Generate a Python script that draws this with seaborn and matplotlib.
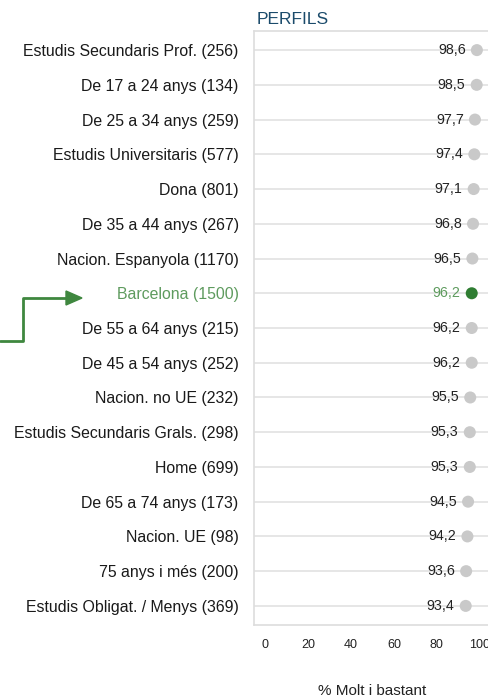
import matplotlib
matplotlib.use("Agg")
import pandas as pd
import seaborn as sns
import matplotlib.pyplot as plt
from matplotlib.lines import Line2D
from matplotlib.patches import FancyArrow

# Chart data
categories = [
    "Estudis Secundaris Prof. (256)", "De 17 a 24 anys (134)", "De 25 a 34 anys (259)",
    "Estudis Universitaris (577)", "Dona (801)", "De 35 a 44 anys (267)",
    "Nacion. Espanyola (1170)", "Barcelona (1500)", "De 55 a 64 anys (215)",
    "De 45 a 54 anys (252)", "Nacion. no UE (232)", "Estudis Secundaris Grals. (298)",
    "Home (699)", "De 65 a 74 anys (173)", "Nacion. UE (98)", "75 anys i més (200)",
    "Estudis Obligat. / Menys (369)",
]
values = [98.6, 98.5, 97.7, 97.4, 97.1, 96.8, 96.5, 96.2, 96.2, 96.2,
          95.5, 95.3, 95.3, 94.5, 94.2, 93.6, 93.4]
highlight = "Barcelona (1500)"
x_ticks = [0, 20, 40, 60, 80, 100]

df = pd.DataFrame({"perfil": categories, "valor": values})
df["grup"] = ["total" if c == highlight else "altres" for c in categories]

sns.set_style("white")
plt.rcParams["font.family"] = ["Liberation Sans", "DejaVu Sans"]

fig = plt.figure(figsize=(4.89, 6.98), dpi=100)
ax = fig.add_axes([254 / 489, 73 / 698, 236 / 489, 594 / 698])

green_dot = "#2f7d32"
green_txt = "#5e9b5e"
grey_dot = "#c9c9c9"

sns.scatterplot(data=df, x="valor", y="perfil", hue="grup",
                palette={"altres": grey_dot, "total": green_dot},
                s=75, linewidth=0, legend=False, ax=ax, zorder=3)

ax.set_xlim(-5.1, 104.7)
ax.set_ylim(len(categories) - 0.45, -0.55)
ax.set_xticks(x_ticks)
ax.set_xticklabels([str(t) for t in x_ticks], fontsize=9, color="#222222")
ax.tick_params(axis="x", length=3, pad=7, color="#cccccc")
ax.tick_params(axis="y", length=0, pad=11, labelsize=11.4)
ax.grid(axis="y", color="#e2e2e2", linewidth=1.2, zorder=0)
ax.set_axisbelow(True)

for side in ["left", "top", "bottom"]:
    ax.spines[side].set_color("#dddddd")
    ax.spines[side].set_linewidth(1.2)
ax.spines["right"].set_visible(False)

for lab in ax.get_yticklabels():
    lab.set_color(green_txt if lab.get_text() == highlight else "#1a1a1a")

# value labels
for i, (c, v) in enumerate(zip(categories, values)):
    ax.text(v - 5.2, i, f"{v:.1f}".replace(".", ","), ha="right", va="center",
            fontsize=10.3, color=green_txt if c == highlight else "#222222", zorder=4)

ax.set_ylabel("")
ax.set_xlabel("% Molt i bastant", fontsize=11, color="#222222", labelpad=24)
ax.set_title("PERFILS", loc="left", fontsize=12.5, color="#1b4b6b", pad=5, x=0.01)

# pointer arrow towards the Barcelona row
H = 698
fig.add_artist(Line2D([0 / 489, 23 / 489, 23 / 489, 70 / 489],
                      [1 - 341 / H, 1 - 341 / H, 1 - 298 / H, 1 - 298 / H],
                      transform=fig.transFigure, color="#3f873f", linewidth=2))
fig.add_artist(FancyArrow(
    66 / 489, 1 - 298 / H, 16 / 489, 0, width=0.0001, head_width=14 / H,
    head_length=16 / 489, length_includes_head=True, color="#3f873f",
    transform=fig.transFigure))

fig.savefig("out.png", dpi=100)
